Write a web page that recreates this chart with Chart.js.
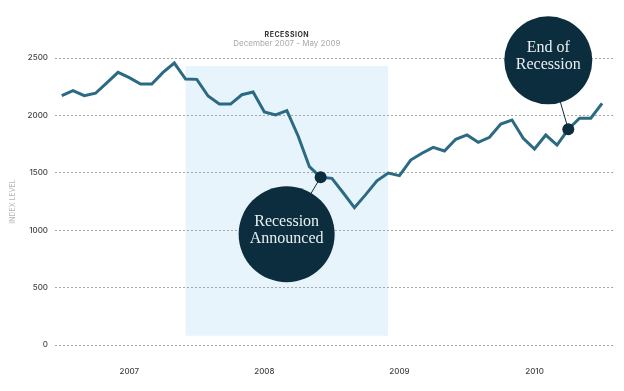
<!DOCTYPE html>
<html>
<head>
<meta charset="utf-8">
<script src="https://cdn.jsdelivr.net/npm/chart.js@4"></script>
<style>
  html, body { margin: 0; padding: 0; background: #fff; }
  #wrap { width: 624px; height: 391px; }
</style>
</head>
<body>
<div id="wrap"><canvas id="grafico"></canvas></div>
<script>
// month index 0 = Jan 2007
const yearLabels = ['2007', '2008', '2009', '2010'];
const yearTickIdx = [6, 18, 30, 42];
const indexLevel = [
    2172, 2215, 2172, 2193, 2284, 2375, 2329, 2274, 2274, 2375, 2456, 2317,
    2314, 2169, 2099, 2099, 2180, 2204, 2030, 2004, 2041, 1821, 1553, 1461,
    1452, 1326, 1196, 1310, 1430, 1498, 1475, 1611, 1670, 1722, 1690, 1792,
    1830, 1766, 1809, 1925, 1960, 1801, 1707, 1829, 1742, 1879, 1975, 1975,
    2105
];
const yTicks = [0, 500, 1000, 1500, 2000, 2500];
const recessionSpan = [11, 29];       // Dec 2007 .. Jun 2009
const recessionLevels = [80, 2430];   // altura da faixa azul
const eventIdx = [23, 45];
const eventText = [['Recession', 'Announced'], ['End of', 'Recession']];

const AXIS_FONT = 'Inter, "Noto Sans", sans-serif';
const dark = '#0c2d3d';

// faixa da recessão (desenhada por baixo da grade)
const faixaPlugin = {
    id: 'faixa',
    beforeDraw: (chart) => {
        const { ctx, scales: { x, y } } = chart;
        const x0 = x.getPixelForValue(recessionSpan[0]);
        const x1 = x.getPixelForValue(recessionSpan[1]);
        const y0 = y.getPixelForValue(recessionLevels[1]);
        const y1 = y.getPixelForValue(recessionLevels[0]);
        ctx.save();
        ctx.fillStyle = '#e8f4fc';
        ctx.fillRect(x0, y0, x1 - x0, y1 - y0);

        // titulo centrado sobre a faixa
        const cx = (x0 + x1) / 2;
        ctx.textAlign = 'center';
        ctx.textBaseline = 'middle';
        ctx.fillStyle = '#333';
        ctx.font = `bold 7px ${AXIS_FONT}`;
        ctx.letterSpacing = '0.5px';
        ctx.fillText('RECESSION', cx, 35);
        ctx.letterSpacing = '0px';
        ctx.fillStyle = '#aaa';
        ctx.font = `8px ${AXIS_FONT}`;
        ctx.fillText('December 2007 - May 2009', cx, 44);
        ctx.restore();
    }
};

// bolhas com os eventos
const bolhas = [
    { dx: -34, dy: 57, r: 48 },
    { dx: -20, dy: -69, r: 44 }
];

const bolhaPlugin = {
    id: 'bolhas',
    beforeDatasetsDraw: (chart) => {
        const { ctx, scales: { x, y } } = chart;
        ctx.save();
        ctx.strokeStyle = dark;
        ctx.lineWidth = 1;
        eventIdx.forEach((idx, k) => {
            const px = x.getPixelForValue(idx);
            const py = y.getPixelForValue(indexLevel[idx]);
            ctx.beginPath();
            ctx.moveTo(px, py);
            ctx.lineTo(px + bolhas[k].dx, py + bolhas[k].dy);
            ctx.stroke();
        });
        ctx.restore();
    },
    afterDatasetsDraw: (chart) => {
        const { ctx, scales: { x, y } } = chart;
        ctx.save();
        eventIdx.forEach((idx, k) => {
            const cx = x.getPixelForValue(idx) + bolhas[k].dx;
            const cy = y.getPixelForValue(indexLevel[idx]) + bolhas[k].dy;
            ctx.beginPath();
            ctx.arc(cx, cy, bolhas[k].r, 0, Math.PI * 2);
            ctx.fillStyle = dark;
            ctx.fill();
            ctx.fillStyle = '#e9f0f2';
            ctx.font = '16px "Liberation Serif", "DejaVu Serif", serif';
            ctx.textAlign = 'center';
            ctx.textBaseline = 'middle';
            ctx.fillText(eventText[k][0], cx, cy - 12);
            ctx.fillText(eventText[k][1], cx, cy + 5);
        });
        ctx.restore();
    }
};

const grafico = document.getElementById('grafico').getContext('2d');
const chart = new Chart(grafico, {
    type: 'line',
    data: {
        datasets: [{
            label: 'Eventos',
            data: eventIdx.map(i => ({ x: i, y: indexLevel[i] })),
            showLine: false,
            pointRadius: 6,
            pointBackgroundColor: dark,
            pointBorderWidth: 0
        }, {
            label: 'Index Level',
            data: indexLevel.map((v, i) => ({ x: i, y: v })),
            borderColor: '#2b6a83',
            borderWidth: 3,
            pointRadius: 0,
            tension: 0,
            borderJoinStyle: 'miter'
        }]
    },
    options: {
        responsive: true,
        maintainAspectRatio: false,
        animation: false,
        layout: {
            padding: { top: 58, right: 9, left: 0, bottom: 0 }
        },
        plugins: {
            legend: { display: false },
            tooltip: { enabled: false }
        },
        scales: {
            x: {
                type: 'linear',
                min: -0.6,
                max: 49.15,
                grid: { display: false },
                border: { display: false },
                afterBuildTicks: (scale) => {
                    scale.ticks = yearTickIdx.map(v => ({ value: v }));
                },
                afterFit: (scale) => { scale.height = 46; },
                ticks: {
                    autoSkip: false,
                    maxRotation: 0,
                    padding: 14,
                    color: '#444',
                    font: { family: AXIS_FONT, size: 8, weight: '500' },
                    callback: (v) => yearLabels[yearTickIdx.indexOf(v)]
                }
            },
            y: {
                min: 0,
                max: 2500,
                afterBuildTicks: (scale) => {
                    scale.ticks = yTicks.map(v => ({ value: v }));
                },
                afterFit: (scale) => { scale.width = 55; },
                grid: {
                    color: '#a5a5a5',
                    lineWidth: 1,
                    drawTicks: false
                },
                border: { display: false, dash: [2, 2] },
                title: {
                    display: true,
                    text: 'INDEX LEVEL',
                    color: '#b5b5b5',
                    font: { family: AXIS_FONT, size: 7 },
                    padding: { top: 9, bottom: 0 }
                },
                ticks: {
                    padding: 7,
                    color: '#444',
                    font: { family: AXIS_FONT, size: 8, weight: '500' },
                    callback: (v) => String(v)
                }
            }
        }
    },
    plugins: [faixaPlugin, bolhaPlugin]
});
</script>
</body>
</html>
